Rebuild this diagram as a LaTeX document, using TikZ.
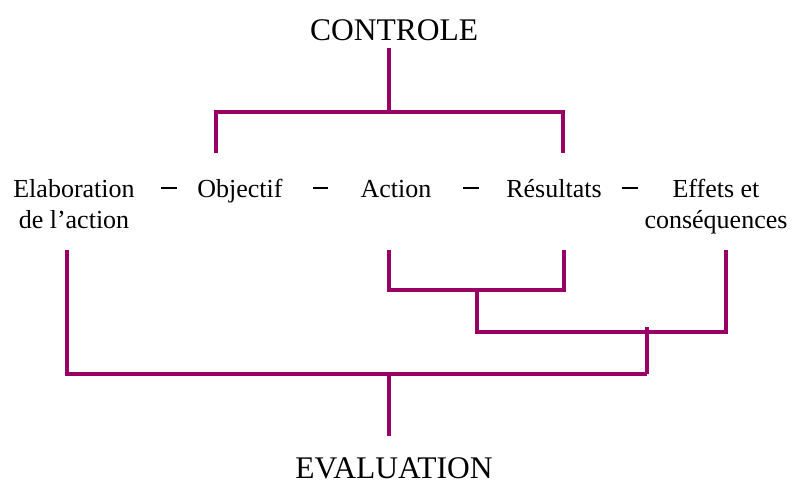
\documentclass[tikz,border=0pt]{standalone}
\usepackage{fontspec}
\setmainfont{Liberation Serif}
\definecolor{plum}{HTML}{990066}
\begin{document}
\begin{tikzpicture}[x=1pt,y=-1pt,
  word/.style={font=\fontsize{26}{32}\selectfont, inner sep=0pt, anchor=base},
  title/.style={font=\fontsize{31.5}{36}\selectfont, inner sep=0pt, anchor=base, text depth=0pt},
  link/.style={draw=plum, line width=3.2pt},
  sepmark/.style={draw=black, line width=2.6pt}]
\useasboundingbox (0,0) rectangle (793,484);

% titles
\node[title] (ctrl) at (394,41) {CONTROLE};
\node[title] (eval) at (394,478) {EVALUATION};

% the chain of stages
\node[word] (elab)  at (74,197)  {Elaboration};
\node[word] (elab2) at (74,229)  {de l’action};
\node[word] (obj)   at (240,197) {Objectif};
\node[word] (act)   at (396,197) {Action};
\node[word] (res)   at (554,197) {Résultats};
\node[word] (eff)   at (716,197) {Effets et};
\node[word] (eff2)  at (716,229) {conséquences};

% short separators between stages
\draw[sepmark] (161,188) -- (177,188);
\draw[sepmark] (313,188) -- (328,188);
\draw[sepmark] (463,188) -- (479,188);
\draw[sepmark] (622,188) -- (638,188);

% junction points
\coordinate (ctop)  at (389,48);
\coordinate (cmid)  at (389,112);
\coordinate (cobj)  at (216,153);
\coordinate (cres)  at (563,153);

\coordinate (bel)   at (67,250);
\coordinate (bac)   at (389,250);
\coordinate (bre)   at (564,250);
\coordinate (bef)   at (726,250);
\coordinate (j1)    at (477,290);
\coordinate (j2)    at (647,332);
\coordinate (j3)    at (389,374);
\coordinate (bend)  at (389,436);

% CONTROLE bracket
\draw[link] (ctop) -- (cmid);
\draw[link] (cobj) |- (cmid) -| (cres);

% EVALUATION brackets
\draw[link] (bac) |- (j1) -| (bre);
\draw[link] (j1) |- (j2) -| (bef);
\draw[link] (647,327) -- (647,374);
\draw[link] (bel) |- (647,374);
\draw[link] (j3) -- (bend);
\end{tikzpicture}
\end{document}
